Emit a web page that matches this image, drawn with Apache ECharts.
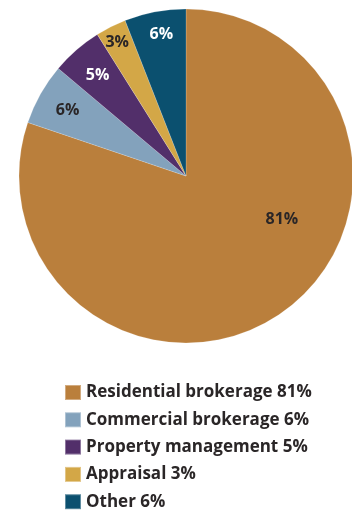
<!DOCTYPE html>
<html>
<head>
<meta charset="utf-8">
<style>
  html, body { margin: 0; padding: 0; background: #fff; }
  #chart { width: 352px; height: 512px; }
</style>
<script src="https://cdn.jsdelivr.net/npm/echarts@6/dist/echarts.min.js"></script>
</head>
<body>
<div id="chart"></div>
<script>
// Revenue sources by segment (percent)
const categories = ['Residential brokerage', 'Commercial brokerage', 'Property management', 'Appraisal', 'Other'];
const shares = [81, 6, 5, 3, 6];
const sliceColors = ['#BA7F3C', '#83A2BC', '#522F6A', '#D3A747', '#0B506F'];
const labelColors = ['#2a2627', '#2a2627', '#ffffff', '#2a2627', '#ffffff'];
// small nudges for the percentage labels, per slice
const labelNudge = [[12, -74], [7, 5], [6, 8], [-4, -5], [2, 0]];

const FONT = '"Open Sans", Lato, sans-serif';

const pieData = categories.map((name, i) => ({
  name: name,
  value: shares[i],
  itemStyle: { color: sliceColors[i] }
}));

// transparent ring that carries the percentage labels further out
const labelData = categories.map((name, i) => ({
  name: name,
  value: shares[i],
  label: { color: labelColors[i] }
}));

const chart = echarts.init(document.getElementById('chart'));
chart.setOption({
  animation: false,
  legend: {
    data: categories,
    orient: 'vertical',
    left: 64,
    top: 384,
    height: 140,
    padding: 0,
    itemWidth: 16,
    itemHeight: 15,
    itemGap: 10.3,
    icon: 'rect',
    selectedMode: false,
    formatter: function (name) {
      return name + ' ' + shares[categories.indexOf(name)] + '%';
    },
    textStyle: {
      fontFamily: FONT,
      fontWeight: 'bold',
      fontSize: 17,
      lineHeight: 16,
      color: '#2a2627'
    }
  },
  series: [
    {
      type: 'pie',
      center: [186, 176],
      radius: [0, 167],
      startAngle: 90,
      clockwise: true,
      silent: true,
      label: { show: false },
      labelLine: { show: false },
      itemStyle: { borderColor: 'rgba(255,255,255,0.35)', borderWidth: 0.5 },
      data: pieData
    },
    {
      type: 'pie',
      center: [186, 176],
      radius: [115, 167],
      startAngle: 90,
      clockwise: true,
      silent: true,
      itemStyle: { color: 'transparent' },
      label: {
        show: true,
        position: 'inside',
        formatter: '{c}%',
        fontFamily: FONT,
        fontWeight: 'bold',
        fontSize: 16
      },
      labelLine: { show: false },
      labelLayout: function (p) {
        const n = labelNudge[p.dataIndex];
        return { dx: n[0], dy: n[1] };
      },
      data: labelData
    }
  ]
});
</script>
</body>
</html>
